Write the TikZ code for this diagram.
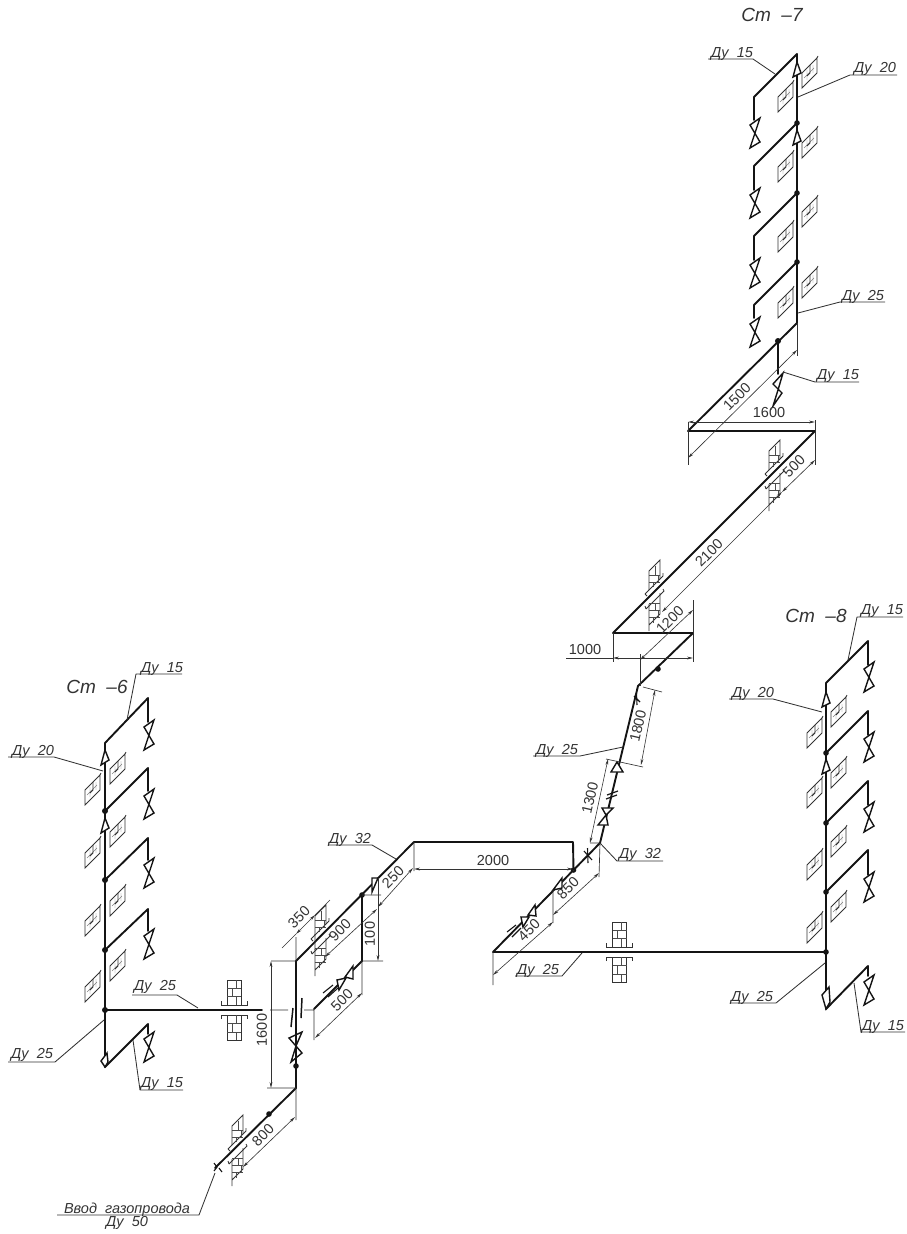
\documentclass[tikz,border=0pt]{standalone}
\usepackage{fontspec}
\setmainfont{Liberation Sans}
\usetikzlibrary{arrows.meta}
\definecolor{ink}{gray}{0.08}
\definecolor{thinink}{gray}{0.2}
\definecolor{brickink}{gray}{0.3}
\tikzset{
  x=1pt,y=-1pt,
  pipe/.style={line width=1.9pt,draw=ink,line cap=round,line join=round},
  fit1/.style={line width=1.4pt,draw=ink,line join=miter},
  thin line/.style={line width=0.65pt,draw=thinink},
  leader/.style={line width=0.85pt,draw=thinink,line join=round},
  dimline/.style={line width=0.6pt,draw=thinink,{Stealth[length=6pt,width=2.8pt]}-{Stealth[length=6pt,width=2.8pt]}},
  lab/.style={font=\itshape\fontsize{14.5}{14.5}\selectfont,text=thinink,inner sep=0pt},
  big/.style={font=\itshape\fontsize{19}{19}\selectfont,text=thinink,inner sep=0pt},
  dimt/.style={font=\fontsize{14.5}{14.5}\selectfont,text=thinink,inner sep=0pt},
  vv/.pic={\draw[fit1] (6,0)--(-4,7)--(6,24)--(-4,30)--(1,15)--cycle;},
  wallsym/.pic={
    \draw[line width=0.9pt,draw=thinink] (0,0)--(-15,15)--(-15,30)--(0,15)--cycle;
    \draw[line width=0.45pt,draw=brickink!70] (-10,12)--(-10,22) (-4,7)--(-4,15) (-13,20)--(-3,10);
    \draw[line width=0.8pt,draw=thinink] (-7,7)--(-7,15)--(-10,18) (1,-2)--(0,0);
  },
  dbrick/.pic={
    \draw[line width=0.85pt,draw=thinink] (-6,-1)--(-6,-20)--(5,-31)--(5,-12);
    \draw[line width=0.85pt,draw=thinink] (-10,3)--(8,-15)--(8,-18) (-10,3)--(-8,5);
    \draw[line width=0.6pt,draw=brickink] (-6,-16)--(5,-16) (-6,-9)--(5,-9) (0,-25)--(0,-16) (3,-16)--(3,-9) (-2,-9)--(-2,-4);
    \draw[line width=0.85pt,draw=thinink] (-6,13)--(-6,40) (5,2)--(5,23)--(-6,34);
    \draw[line width=0.85pt,draw=thinink] (-9,18)--(9,0)--(8,-2) (-9,18)--(-10,15);
    \draw[line width=0.6pt,draw=brickink] (-6,12)--(5,12) (-6,19)--(5,19) (-6,26)--(5,26) (0,12)--(0,19) (3,19)--(3,26) (-2,26)--(-2,32);
  },
  hbrick/.pic={
    \draw[line width=1pt,draw=thinink] (-7,-30) rectangle (7,-5);
    \draw[line width=1pt,draw=thinink] (-7,5) rectangle (7,30);
    \draw[line width=0.9pt,draw=thinink] (-13,-9)--(-13,-5)--(13,-5)--(13,-9) (-13,9)--(-13,5)--(13,5)--(13,9);
    \draw[line width=0.65pt,draw=brickink] (-7,-22)--(7,-22) (-7,-14)--(7,-14) (2,-30)--(2,-22) (-2,-22)--(-2,-14) (2,-14)--(2,-5)
      (-7,13)--(7,13) (-7,22)--(7,22) (2,5)--(2,13) (-2,13)--(-2,22) (2,22)--(2,30);
  }
}
\begin{document}
\begin{tikzpicture}
\useasboundingbox (0,0) rectangle (907,1234);
% ---------- main run
\coordinate (a0) at (215,1168); \coordinate (a1) at (296,1088); \coordinate (a2) at (296,961);
\coordinate (a3) at (414,842);  \coordinate (a4) at (573,842);  \coordinate (a5) at (573.5,870);
\coordinate (b0) at (493,952);  \coordinate (b1) at (600,843);  \coordinate (b2) at (638,686);
\coordinate (b3) at (693,633);  \coordinate (b4) at (613,633);  \coordinate (b5) at (815,431);
\coordinate (b6) at (688,431);  \coordinate (b7) at (797,323);  \coordinate (b8) at (778,341);
\coordinate (c1) at (826,952);  \coordinate (d1) at (362,895);  \coordinate (d2) at (362,961);
\coordinate (d3) at (314,1009); \coordinate (e1) at (105,1010); \coordinate (e2) at (262,1010);
\draw[pipe] (a0)--(a1)--(a2)--(a3)--(a4)--(a5);
\draw[pipe] (d1)--(d2)--(d3);
\draw[pipe] (c1)--(b0)--(b1)--(b2)--(b3)--(b4)--(b5)--(b6)--(b7);
\draw[pipe] (e1)--(e2);
\draw[pipe] (b8)--(778,374);
\fill[ink] (a5) circle[radius=2.8pt] (269,1114) circle[radius=2.8pt] (296,1066) circle[radius=2.8pt] (d1) circle[radius=2.8pt] (658,669) circle[radius=2.8pt] (b8) circle[radius=3pt];
% ---------- risers
% St-7
\draw[pipe] (797,54)--(797,323);
\draw[pipe] (797,54)--(754,97)--(754,120);
\draw[pipe] (797,123)--(754,166)--(754,190);
\draw[pipe] (797,193)--(754,236)--(754,260);
\draw[pipe] (797,262)--(754,305)--(754,318);
\foreach \y in {118,188,258,317} \pic at (754,\y) {vv};
\foreach \y in {123,193,262} \fill[ink] (797,\y) circle[radius=2.8pt];
\foreach \y in {58,128,197,268} \pic at (817,\y) {wallsym};
\foreach \y in {82,152,222,288} \pic at (793,\y) {wallsym};
\foreach \y in {62,130} \draw[fit1,fill=white] (797,\y)--(793,\y+15)--(801,\y+11)--cycle;
% St-8
\draw[pipe] (826,683)--(826,1009)--(868,966)--(868,976);
\draw[pipe] (826,683)--(868,641)--(868,665);
\draw[pipe] (826,753)--(868,711)--(868,735);
\draw[pipe] (826,823)--(868,781)--(868,805);
\draw[pipe] (826,892)--(868,850)--(868,875);
\foreach \y in {662,732,802,872,975} \pic at (868,\y) {vv};
\foreach \y in {753,823,892,952} \fill[ink] (826,\y) circle[radius=2.8pt];
\foreach \y in {697,758,827,892} \pic at (846,\y) {wallsym};
\foreach \y in {718,778,850,913} \pic at (822,\y) {wallsym};
\foreach \y in {692,759} \draw[fit1,fill=white] (826,\y)--(822,\y+15)--(830,\y+11)--cycle;
\draw[fit1,fill=white] (822,995)--(829,987)--(830,1002)--(826,1009)--cycle;
% St-6
\draw[pipe] (105,743)--(105,1067)--(148,1024)--(148,1034);
\draw[pipe] (105,743)--(148,698)--(148,722);
\draw[pipe] (105,811)--(148,768)--(148,791);
\draw[pipe] (105,880)--(148,838)--(148,860);
\draw[pipe] (105,950)--(148,909)--(148,931);
\foreach \y in {720,789,858,929,1032} \pic at (148,\y) {vv};
\foreach \y in {811,880,950,1010} \fill[ink] (105,\y) circle[radius=3pt];
\foreach \y in {754,817,886,951} \pic at (125,\y) {wallsym};
\foreach \y in {775,838,906,972} \pic at (100,\y) {wallsym};
\foreach \y in {750,818} \draw[fit1,fill=white] (105,\y)--(101,\y+15)--(109,\y+10)--cycle;
\draw[fit1,fill=white] (101,1061)--(107,1053)--(108,1062)--(105,1067)--cycle;
% ---------- fittings on the main run
\draw[fit1] (783,373)--(773,384)--(782,393)--(773,406)--(778,390)--cycle;
\draw[fit1] (302,1032)--(289,1038)--(302,1053)--(291,1062)--(296,1046)--cycle;
\draw[line width=1.5pt,draw=ink] (293,1008)--(291,1027) (302,998)--(301,1018);
\draw[fit1,fill=white] (372,878)--(378,878)--(372,892)--cycle;
\draw[fit1,fill=white] (353,966)--(345,977)--(353,979)--cycle (346,978)--(337,980)--(339,990)--cycle;
\draw[line width=1.1pt,draw=ink] (323,993)--(333,985) (328,997)--(338,988);
\draw[fit1,fill=white] (562,878)--(553,890)--(562,888)--cycle;
\draw[fit1,fill=white] (535,905)--(528,915)--(536,916)--cycle (529,917)--(521,917)--(523,927)--cycle;
\draw[line width=1.1pt,draw=ink] (507,932)--(516,925) (512,937)--(521,928);
\draw[fit1,fill=white] (617,762)--(611,772)--(623,772)--cycle;
\draw[line width=1.2pt,draw=ink] (607,795)--(618,791) (606,799)--(617,795);
\draw[fit1,fill=white] (602,808)--(613,808)--(606,815)--cycle (606,815)--(598,825)--(608,825)--cycle;
\draw[line width=1.1pt,draw=ink] (584,851)--(592,860) (587.5,848)--(588,863);
\draw[line width=1.1pt,draw=ink] (634,696)--(640,702) (636.5,693)--(637,705);
\draw[line width=1.1pt,draw=ink] (214,1163)--(217,1167)--(214,1171) (219,1168)--(222,1172);
% ---------- wall symbols on pipes
\pic at (238,1146) {dbrick};
\pic at (321,936) {dbrick};
\pic at (655,591) {dbrick};
\pic at (775,471) {dbrick};
\pic at (234,1010) {hbrick};
\pic at (619.5,952) {hbrick};
% ---------- extension lines
\draw[thin line] (267,1088)--(296,1088) (271,961)--(296,961) (270,1010)--(288,1010) (304,1010)--(314,1010)
  (296,961)--(296,937) (d3)--(314,1040) (d2)--(362,995) (d2)--(383,961) (d1)--(381,895) (a3)--(414,871)
  (a5)--(573,871) (a1)--(296,1120) (315,934)--(315,950);
\draw[thin line] (688,422)--(688,465) (815,420)--(815,465) (797,323)--(797,356);
\draw[thin line] (613,633)--(613,662) (693,600)--(693,662) (640,654)--(640,686) (566,658)--(613,658);
\draw[thin line] (643,687)--(662,692) (620,762)--(643,767) (606,759)--(620,762) (590,843)--(600,843)
  (600,843)--(599,877) (553,890)--(553,923) (493,952)--(493,985);
\draw[thin line] (282,948)--(296,934) (315,915)--(330,900);
% ---------- dimensions
\draw[dimline] (271,961)--(271,1088);
\draw[dimline,-{Stealth[length=6pt,width=2.8pt]}] (378,878)--(378,961);
\draw[dimline] (414,869)--(573,869);
\draw[dimline] (296,934)--(315,915);
\draw[dimline] (325,957)--(377,909);
\draw[dimline] (378,907)--(413,868);
\draw[dimline] (315,1038)--(362,993);
\draw[dimline] (243,1167)--(295,1117);
\draw[dimline] (493,975)--(553,922);
\draw[dimline] (553,915)--(599,873);
\draw[dimline] (590,843)--(608,759);
\draw[dimline] (641,765)--(655,690);
\draw[dimline] (613,658)--(693,658);
\draw[dimline] (640,660)--(693,610);
\draw[dimline] (662,612)--(782,492);
\draw[dimline] (782,492)--(815,460);
\draw[dimline] (688,458)--(797,350);
\draw[dimline] (688,422)--(815,422);
% ---------- dimension texts
\node[dimt] (t1600a) at (262,1030) [rotate=90] {1600};
\node[dimt] (t100) at (370,934) [rotate=90] {100};
\node[dimt] (t350) at (299,917) [rotate=45] {350};
\node[dimt] (t900) at (340,930) [rotate=45] {900};
\node[dimt] (t250) at (393,877) [rotate=45] {250};
\node[dimt] (t500a) at (342,1000) [rotate=45] {500};
\node[dimt] (t800) at (263,1135) [rotate=45] {800};
\node[dimt] (t2000) at (493,860) {2000};
\node[dimt] (t450) at (529,930) [rotate=45] {450};
\node[dimt] (t850) at (568,888) [rotate=45] {850};
\node[dimt] (t1300) at (590,798) [rotate=77] {1300};
\node[dimt] (t1800) at (638,726) [rotate=77] {1800};
\node[dimt] (t1000) at (585,649) {1000};
\node[dimt] (t1200) at (670,620) [rotate=45] {1200};
\node[dimt] (t2100) at (709,553) [rotate=45] {2100};
\node[dimt] (t500b) at (794,466) [rotate=45] {500};
\node[dimt] (t1500) at (737,397) [rotate=45] {1500};
\node[dimt] (t1600b) at (769,413) {1600};
% ---------- titles
\node[big] (st7) at (772,15) {Ст\ \ –7};
\node[big] (st8) at (816,616) {Ст\ \ –8};
\node[big] (st6) at (97,687) {Ст\ \ –6};
% ---------- leaders and their labels
\node[lab] (l1) at (732,54) {Ду\ \ 15};
\draw[leader] (775,74)--(753,59)--(708,59);
\node[lab] (l2) at (875,69) {Ду\ \ 20};
\draw[leader] (798,97)--(850,75)--(897,75);
\node[lab] (l3) at (863,297) {Ду\ \ 25};
\draw[leader] (798,313)--(840,302)--(885,302);
\node[lab] (l4) at (838,376) {Ду\ \ 15};
\draw[leader] (783,372)--(815,382)--(859,382);
\node[lab] (l5) at (882,611) {Ду\ \ 15};
\draw[leader] (848,660)--(857,617)--(903,617);
\node[lab] (l6) at (753,694) {Ду\ \ 20};
\draw[leader] (822,712)--(773,699)--(729,699);
\node[lab] (l7) at (752,998) {Ду\ \ 25};
\draw[leader] (825,963)--(776,1003)--(730,1003);
\node[lab] (l8) at (883,1027) {Ду\ \ 15};
\draw[leader] (854,983)--(861,1032)--(905,1032);
\node[lab] (l9) at (557,751) {Ду\ \ 25};
\draw[leader] (623,747)--(580,756)--(533,756);
\node[lab] (l10) at (640,855) {Ду\ \ 32};
\draw[leader] (600,843)--(617,861)--(663,861);
\node[lab] (l11) at (538,971) {Ду\ \ 25};
\draw[leader] (582,953)--(562,976)--(515,976);
\node[lab] (l12) at (350,840) {Ду\ \ 32};
\draw[leader] (396,859)--(372,845)--(328,845);
\node[lab] (l13) at (162,669) {Ду\ \ 15};
\draw[leader] (127,720)--(136,674)--(182,674);
\node[lab] (l14) at (33,752) {Ду\ \ 20};
\draw[leader] (103,771)--(54,757)--(8,757);
\node[lab] (l15) at (155,987) {Ду\ \ 25};
\draw[leader] (198,1008)--(177,995)--(132,995);
\node[lab] (l16) at (32,1055) {Ду\ \ 25};
\draw[leader] (104,1020)--(55,1062)--(8,1062);
\node[lab] (l17) at (162,1084) {Ду\ \ 15};
\draw[leader] (133,1040)--(140,1090)--(183,1090);
\node[lab] (l18) at (127,1210) {Ввод\ \ газопровода};
\node[lab] (l19) at (127,1223) {Ду\ \ 50};
\draw[leader] (215,1173)--(199,1215)--(57,1215);
\end{tikzpicture}
\end{document}
